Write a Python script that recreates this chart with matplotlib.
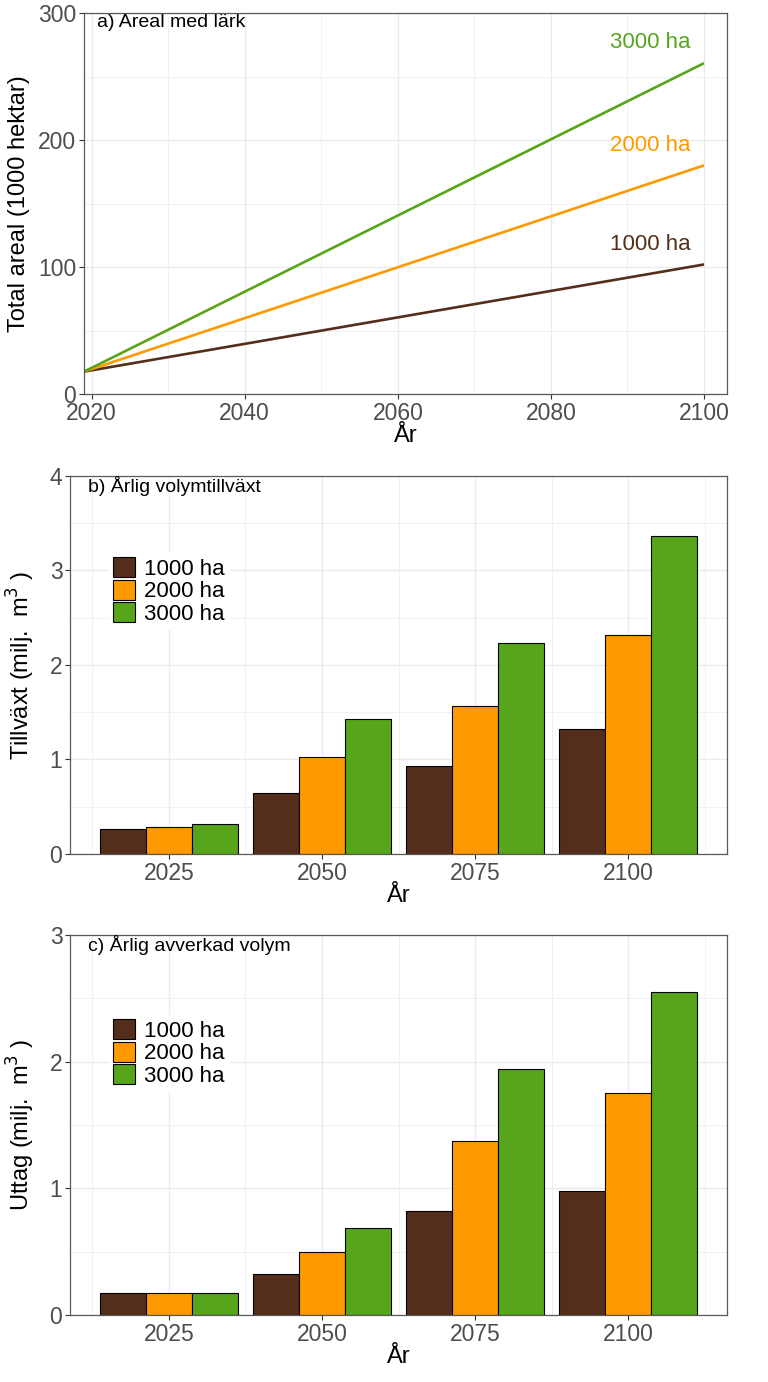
import matplotlib
matplotlib.use("Agg")
import matplotlib.pyplot as plt
import numpy as np

plt.rcParams['font.family'] = ['Liberation Sans', 'DejaVu Sans']

# data
scenarios = ['1000 ha', '2000 ha', '3000 ha']
colors = ['#542E1B', '#FF9900', '#56A51A']

area_years = [2019, 2100]
area_1000 = [17.6, 102.0]
area_2000 = [17.6, 180.0]
area_3000 = [17.6, 260.5]
label_y = [117.5, 195.5, 276.5]

bar_years = ['2025', '2050', '2075', '2100']
growth_1000 = [0.26, 0.65, 0.93, 1.32]
growth_2000 = [0.29, 1.03, 1.57, 2.32]
growth_3000 = [0.32, 1.43, 2.23, 3.36]
harvest_1000 = [0.17, 0.32, 0.82, 0.98]
harvest_2000 = [0.17, 0.50, 1.37, 1.75]
harvest_3000 = [0.17, 0.69, 1.94, 2.55]

W, H = 768, 1382
fig = plt.figure(figsize=(W / 100, H / 100), dpi=100)

tick_col = '#4D4D4D'
grid_col = '#EBEBEB'


def style(ax):
    for s in ax.spines.values():
        s.set_color('#5A5A5A')
        s.set_linewidth(0.9)
    ax.tick_params(labelsize=16.5, labelcolor=tick_col, color='#333333',
                   length=3.5, width=0.8, pad=2)
    ax.grid(True, which='major', color=grid_col, lw=1.0)
    ax.grid(True, which='minor', color=grid_col, lw=0.5)
    ax.tick_params(which='minor', length=0)
    ax.set_axisbelow(True)


def ax_at(left, top, right, bottom):
    return fig.add_axes([left / W, 1 - bottom / H, (right - left) / W, (bottom - top) / H])


# a) area
ax1 = ax_at(84, 13, 727, 394)
for vals, c, lab, ly in zip([area_1000, area_2000, area_3000], colors, scenarios, label_y):
    ax1.plot(area_years, vals, color=c, lw=1.9, solid_capstyle='butt')
    ax1.text(2093, ly, lab, color=c, fontsize=16, ha='center', va='center')
ax1.set_xlim(2019, 2103)
ax1.set_ylim(0, 300)
ax1.set_xticks([2020, 2040, 2060, 2080, 2100])
ax1.set_xticks([2030, 2050, 2070, 2090], minor=True)
ax1.set_yticks([0, 100, 200, 300])
ax1.set_yticks([50, 150, 250], minor=True)
style(ax1)
ax1.set_xlabel('År', fontsize=17, labelpad=0)
ax1.set_ylabel('Total areal (1000 hektar)', fontsize=17)
ax1.yaxis.set_label_coords(-0.084, 0.5)
ax1.text(0.02, 0.976, 'a) Areal med lärk', transform=ax1.transAxes,
         fontsize=14, ha='left', va='center')


def bar_panel(ax, series, ymax, ylabel, title, leg_y):
    x = np.arange(1, len(bar_years) + 1)
    w = 0.3
    handles = []
    for i, (vals, c, lab) in enumerate(zip(series, colors, scenarios)):
        b = ax.bar(x + (i - 1) * w, vals, width=w, color=c, edgecolor='black',
                   linewidth=0.8, label=lab)
        handles.append(b)
    ax.set_xlim(0.355, 4.645)
    ax.set_ylim(0, ymax)
    ax.set_xticks(x)
    ax.set_xticklabels(bar_years)
    ax.set_xticks(np.arange(0.5, 5.0, 1.0), minor=True)
    ax.set_yticks(np.arange(0, ymax + 1))
    ax.set_yticks(np.arange(0.5, ymax, 1.0), minor=True)
    style(ax)
    ax.set_xlabel('År', fontsize=17, labelpad=0)
    ax.set_ylabel(ylabel, fontsize=17)
    ax.yaxis.set_label_coords(-0.05, 0.5)
    ax.text(0.027, 0.973, title, transform=ax.transAxes,
            fontsize=14, ha='left', va='center')
    leg = ax.legend(handles=handles, loc='upper left', bbox_to_anchor=(0.059, leg_y),
                    fontsize=16, frameon=True, fancybox=False, borderaxespad=0,
                    borderpad=0.2, handlelength=1.0, handleheight=1.0,
                    handletextpad=0.37, labelspacing=0.0)
    leg.get_frame().set_edgecolor('white')
    leg.get_frame().set_facecolor('white')
    leg.get_frame().set_alpha(1)


# b) growth
ax2 = ax_at(70, 476, 727, 854)
bar_panel(ax2, [growth_1000, growth_2000, growth_3000], 4,
          'Tillväxt (milj.  m$^3$ )', 'b) Årlig volymtillväxt', 0.797)

# c) harvest
ax3 = ax_at(70, 935, 727, 1315)
bar_panel(ax3, [harvest_1000, harvest_2000, harvest_3000], 3,
          'Uttag (milj.  m$^3$ )', 'c) Årlig avverkad volym', 0.79)

fig.savefig('out.png', dpi=100)
